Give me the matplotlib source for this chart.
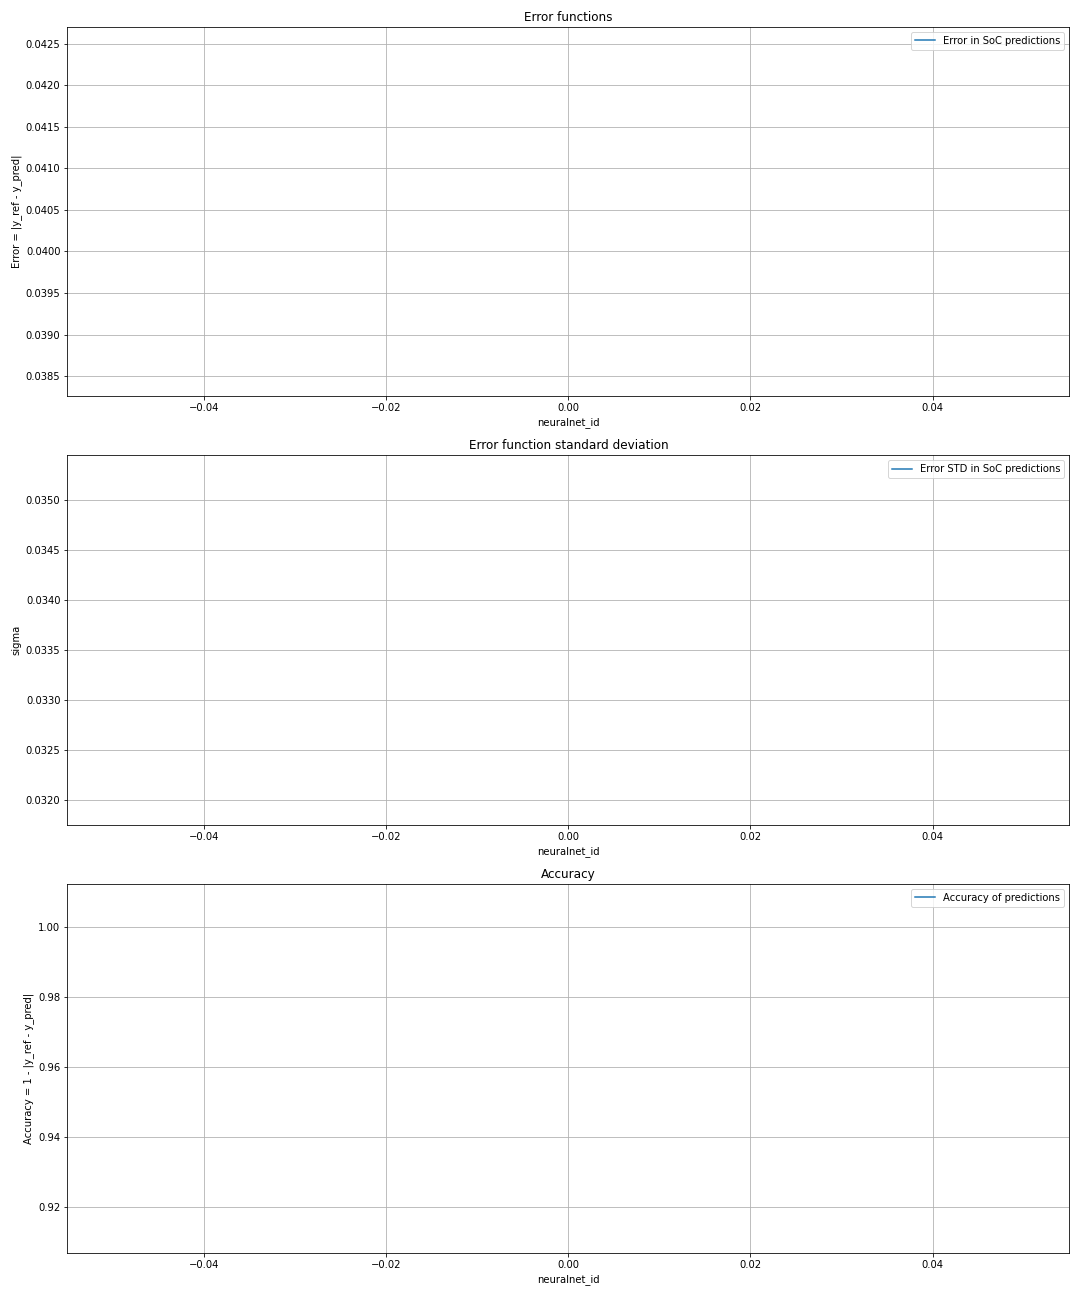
import matplotlib
matplotlib.use('Agg')
import matplotlib.pyplot as plt

# one network only, so each series has a single point
neuralnet_id = [0]
error_mean = [0.04048]
error_std = [0.0336]
accuracy = [1 - e for e in error_mean]

fig, (ax1, ax2, ax3) = plt.subplots(3, 1, figsize=(15, 18), dpi=72)

ax1.plot(neuralnet_id, error_mean, label='Error in SoC predictions')
ax1.set_title('Error functions')
ax1.set_xlabel('neuralnet_id')
ax1.set_ylabel('Error = |y_ref - y_pred|')
ax1.grid(True)
ax1.legend(loc='upper right')

ax2.plot(neuralnet_id, error_std, label='Error STD in SoC predictions')
ax2.set_title('Error function standard deviation')
ax2.set_xlabel('neuralnet_id')
ax2.set_ylabel('sigma')
ax2.grid(True)
ax2.legend(loc='upper right')

ax3.plot(neuralnet_id, accuracy, label='Accuracy of predictions')
ax3.set_title('Accuracy')
ax3.set_xlabel('neuralnet_id')
ax3.set_ylabel('Accuracy = 1 - |y_ref - y_pred|')
ax3.grid(True)
ax3.legend(loc='upper right')

plt.tight_layout()
plt.savefig('out.png')
